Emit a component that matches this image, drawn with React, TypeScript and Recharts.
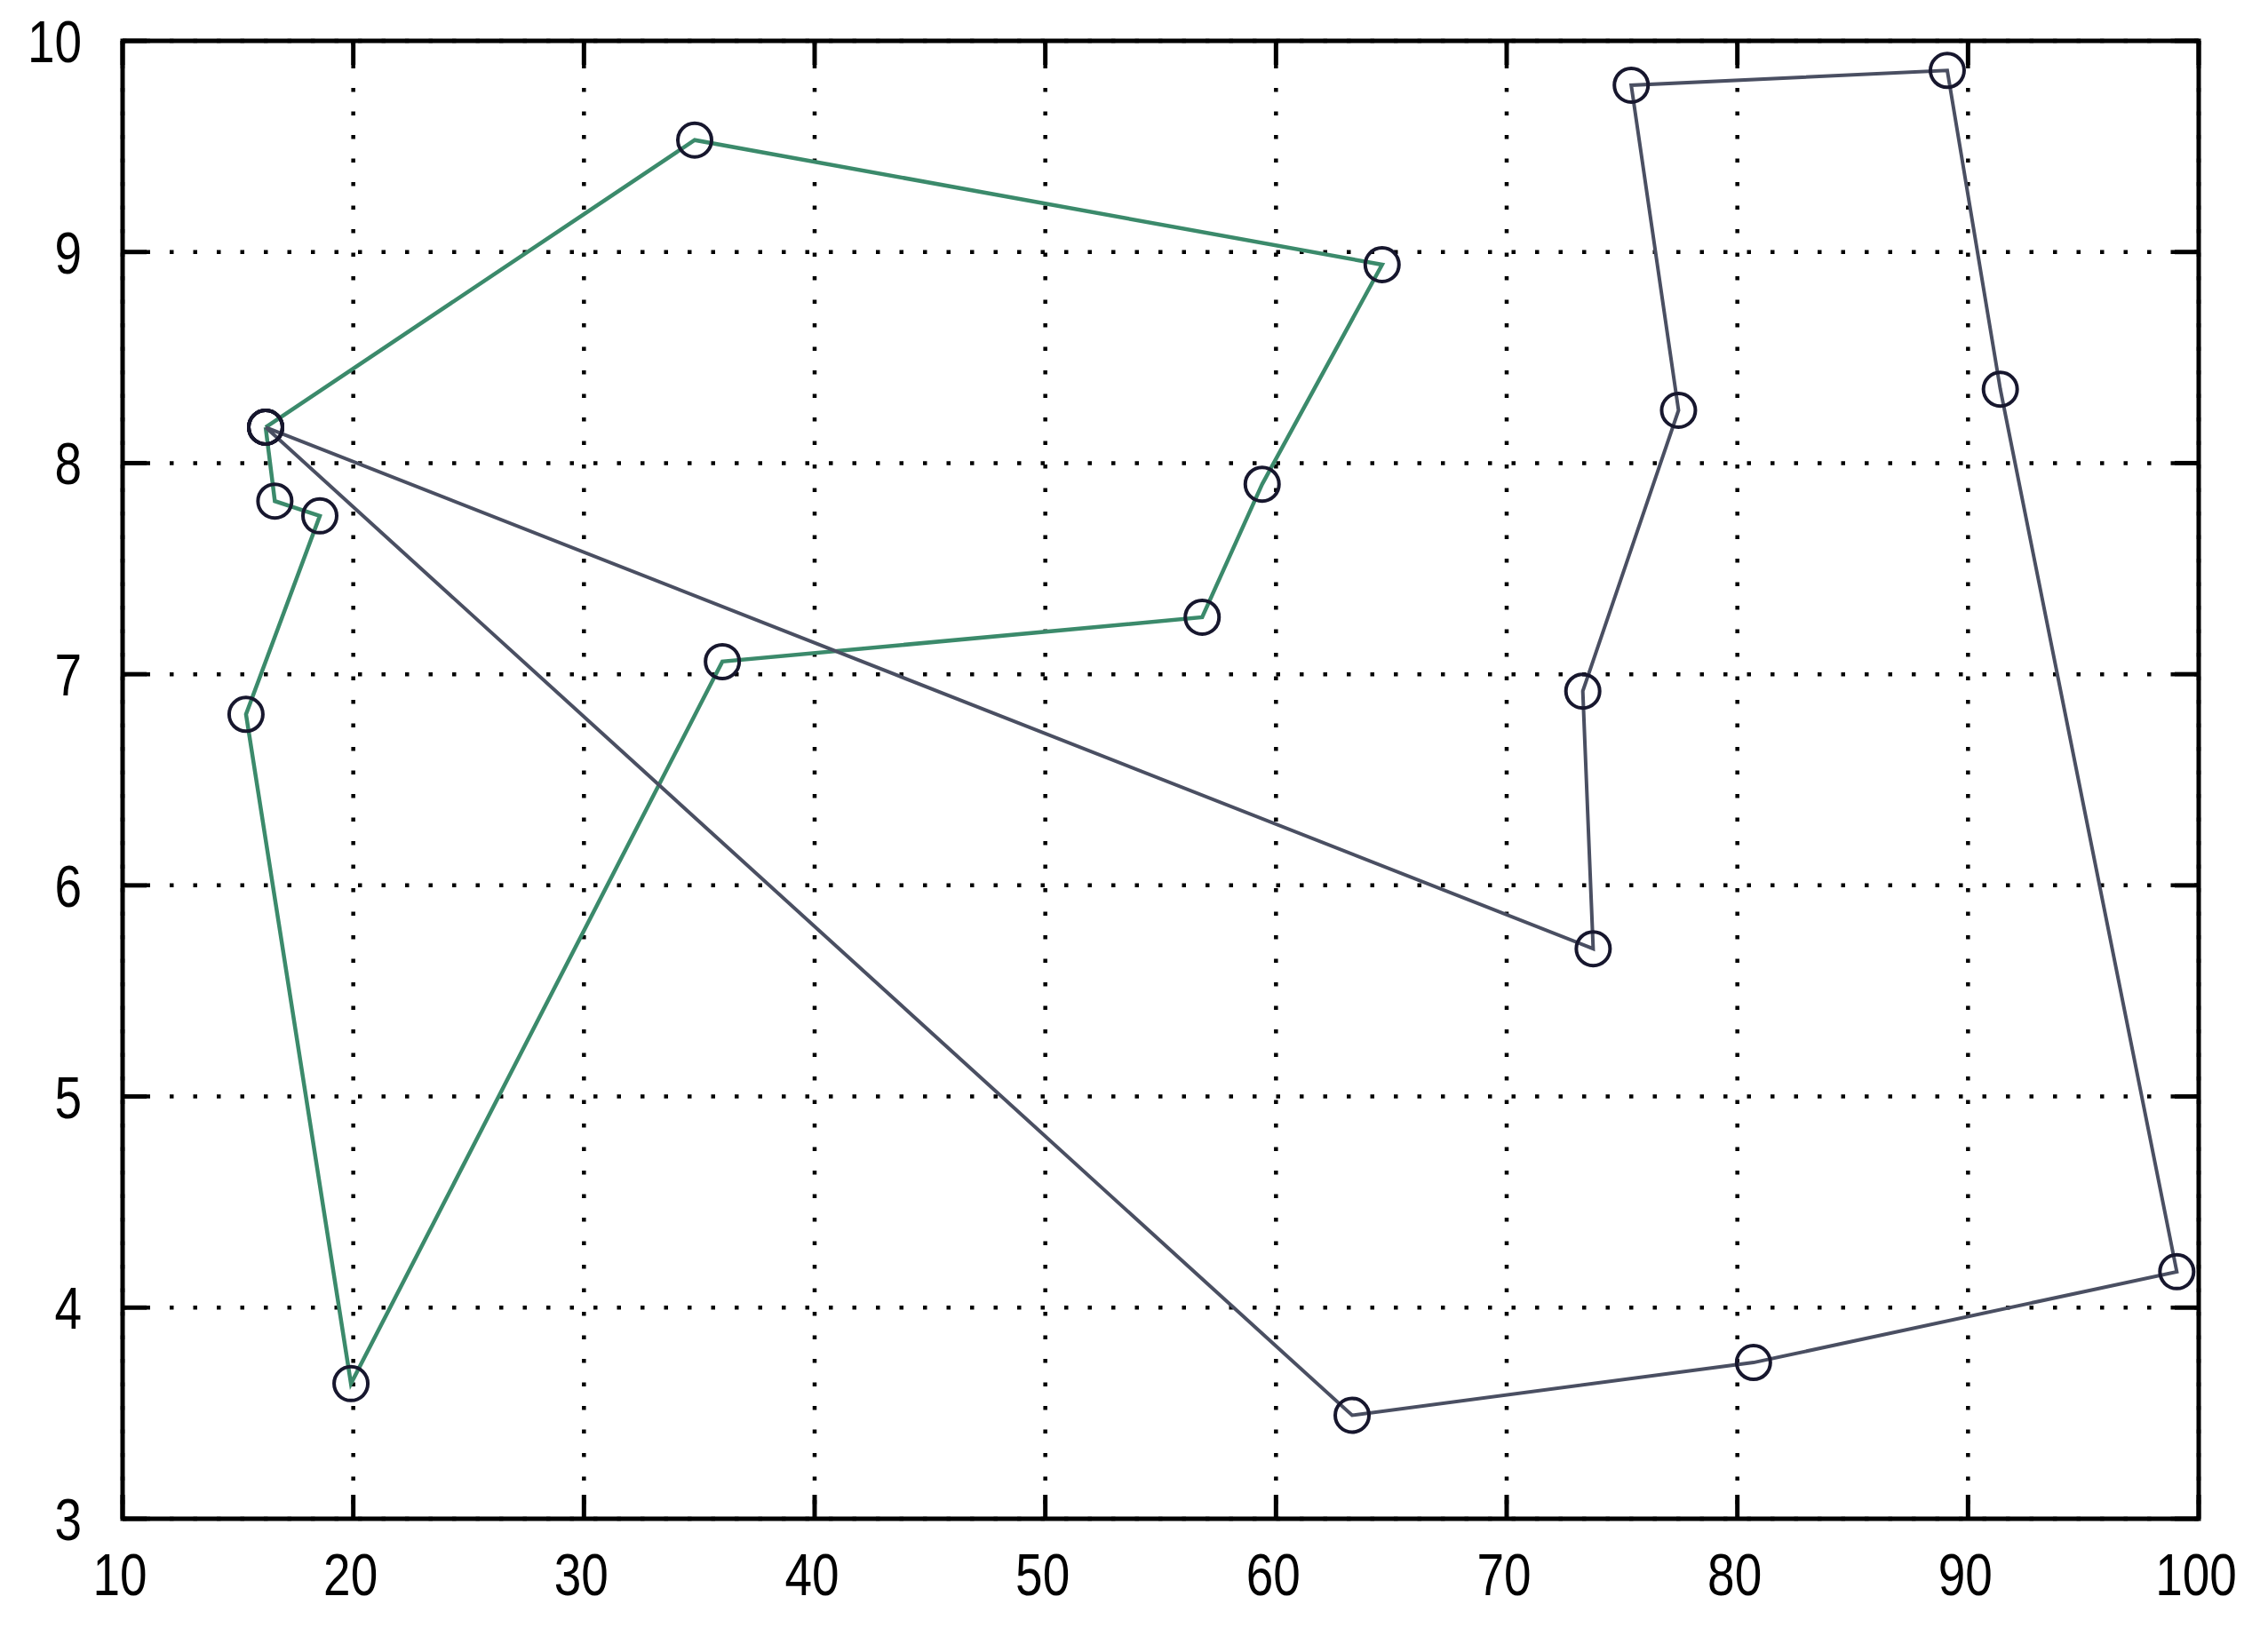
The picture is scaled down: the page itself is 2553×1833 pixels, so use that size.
import {
  ScatterChart,
  Scatter,
  XAxis,
  YAxis,
  CartesianGrid,
  ReferenceArea,
} from "recharts";

// two closed routes, first point repeated at the end
const greenX = [16.2, 34.8, 64.6, 59.4, 56.8, 36.0, 19.9, 15.35, 18.55, 16.6, 16.2];
const greenY = [8.17, 9.53, 8.94, 7.9, 7.27, 7.06, 3.64, 6.81, 7.75, 7.82, 8.17];

const blueX = [16.2, 73.75, 73.3, 77.45, 75.4, 89.1, 91.4, 99.05, 80.7, 63.3, 16.2];
const blueY = [8.17, 5.7, 6.92, 8.25, 9.79, 9.86, 8.35, 4.17, 3.74, 3.49, 8.17];

const xTicks = [10, 20, 30, 40, 50, 60, 70, 80, 90, 100];
const yTicks = [3, 4, 5, 6, 7, 8, 9, 10];

const toPoints = (xs: number[], ys: number[]) => xs.map((x, i) => ({ x, y: ys[i] }));
const greenRoute = toPoints(greenX, greenY);
const blueRoute = toPoints(blueX, blueY);

const W = 2537;
const H = 1817;
const M = { top: 38, right: 70, bottom: 0, left: 0 };
const Y_AXIS_W = 130;
const X_AXIS_H = 115;
const PLOT_LEFT = M.left + Y_AXIS_W;
const PLOT_RIGHT = W - M.right;
const PLOT_TOP = M.top;
const PLOT_BOTTOM = H - M.bottom - X_AXIS_H;

const TICK_LEN = 27;
const FONT = "'Liberation Sans', Arial, sans-serif";
const FONT_SIZE = 67;
const NARROW = 0.82; // matlab's label font is narrower than Liberation Sans
const X_MARGIN = 86;
const Y_MARGIN = 46;

const Label = ({ x, y, anchor, value }: any) => (
  <g transform={`translate(${x},${y}) scale(${NARROW},1)`}>
    <text x={0} y={0} textAnchor={anchor} fontFamily={FONT} fontSize={FONT_SIZE} fill="#000">
      {value}
    </text>
  </g>
);

const XTick = ({ x, payload }: any) => (
  <g>
    <line x1={x} x2={x} y1={PLOT_BOTTOM} y2={PLOT_BOTTOM - TICK_LEN} stroke="#000" strokeWidth={5} />
    <line x1={x} x2={x} y1={PLOT_TOP} y2={PLOT_TOP + TICK_LEN} stroke="#000" strokeWidth={5} />
    <Label x={x - 3} y={PLOT_BOTTOM + X_MARGIN} anchor="middle" value={payload.value} />
  </g>
);

const YTick = ({ y, payload }: any) => (
  <g>
    <line x1={PLOT_LEFT} x2={PLOT_LEFT + TICK_LEN} y1={y} y2={y} stroke="#000" strokeWidth={5} />
    <line x1={PLOT_RIGHT} x2={PLOT_RIGHT - TICK_LEN} y1={y} y2={y} stroke="#000" strokeWidth={5} />
    <Label x={PLOT_LEFT - Y_MARGIN} y={y + 24} anchor="end" value={payload.value} />
  </g>
);

const Ring = ({ cx, cy }: any) => (
  <circle cx={cx} cy={cy} r={19} fill="none" stroke="#17172e" strokeWidth={4} />
);

export default function App() {
  return (
    <div style={{ width: W, height: H, background: "#fff" }}>
      <ScatterChart width={W} height={H} margin={M}>
        <CartesianGrid stroke="#000" strokeWidth={4.5} strokeDasharray="4.5 22" />
        <XAxis
          type="number"
          dataKey="x"
          domain={[10, 100]}
          ticks={xTicks}
          allowDataOverflow
          height={X_AXIS_H}
          axisLine={false}
          tickLine={false}
          tickSize={0}
          tickMargin={X_MARGIN}
          tick={<XTick />}
          interval={0}
        />
        <YAxis
          type="number"
          dataKey="y"
          domain={[3, 10]}
          ticks={yTicks}
          allowDataOverflow
          width={Y_AXIS_W}
          axisLine={false}
          tickLine={false}
          tickSize={0}
          tickMargin={Y_MARGIN}
          tick={<YTick />}
          interval={0}
        />
        <ReferenceArea x1={10} x2={100} y1={3} y2={10} fill="none" stroke="#000" strokeWidth={5} />
        <Scatter
          data={greenRoute}
          line={{ stroke: "#3b8a6b", strokeWidth: 4.5 }}
          shape={<Ring />}
          isAnimationActive={false}
        />
        <Scatter
          data={blueRoute}
          line={{ stroke: "#4a4f62", strokeWidth: 4 }}
          shape={<Ring />}
          isAnimationActive={false}
        />
      </ScatterChart>
    </div>
  );
}
